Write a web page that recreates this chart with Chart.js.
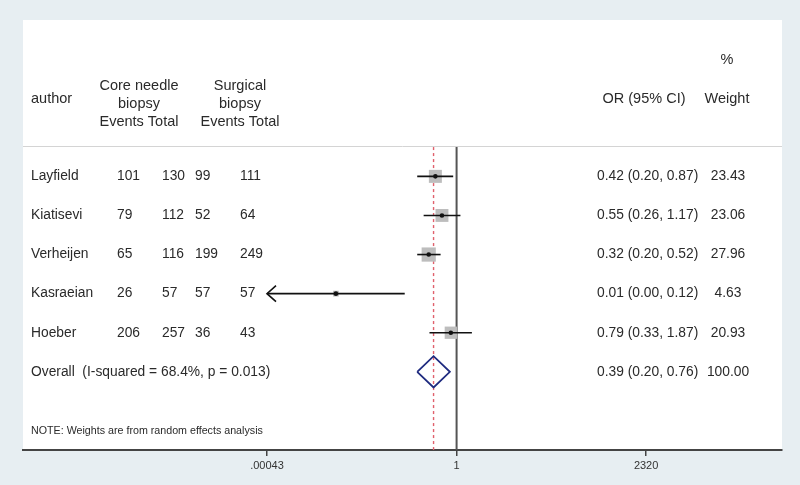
<!DOCTYPE html>
<html>
<head>
<meta charset="utf-8">
<script src="https://cdn.jsdelivr.net/npm/chart.js@4/dist/chart.umd.min.js"></script>
<style>
  html, body { margin: 0; padding: 0; background: #e7eef2; }
  canvas { display: block; }
</style>
</head>
<body>
<canvas id="forest" width="800" height="485"></canvas>
<script>
// study rows
const authors = ['Layfield', 'Kiatisevi', 'Verheijen', 'Kasraeian', 'Hoeber'];
const cnbEvents = [101, 79, 65, 26, 206];
const cnbTotal = [130, 112, 116, 57, 257];
const surgEvents = [99, 52, 199, 57, 36];
const surgTotal = [111, 64, 249, 57, 43];
const oddsRatio = [0.42, 0.55, 0.32, 0.0072, 0.79];
const ciLow = [0.20, 0.26, 0.20, 0.0003, 0.33];
const ciHigh = [0.87, 1.17, 0.52, 0.12, 1.87];
const weights = [23.43, 23.06, 27.96, 4.63, 20.93];

// pooled estimate
const overallOR = 0.39;
const overallLow = 0.20;
const overallHigh = 0.76;
const overallWeight = 100.00;
const iSquared = 68.4;
const pValue = 0.013;

// axis
const xTicks = [0.00043, 1, 2320];
const xTickLabels = ['.00043', '1', '2320'];

const FONT = '"Liberation Sans", Arial, sans-serif';
const TEXT = '#2a2a2a';
const overallRow = authors.length;
const clipLow = xTicks[0];
const fmt = v => v.toFixed(2);

const ciSets = authors.map((a, i) => ({
  label: 'ci-' + a,
  data: [{x: Math.max(ciLow[i], clipLow), y: i}, {x: ciHigh[i], y: i}],
  showLine: true,
  borderColor: '#111',
  borderWidth: 1.6,
  pointRadius: 0,
  order: 2
}));

const chart = new Chart(document.getElementById('forest'), {
  type: 'scatter',
  data: {
    datasets: [
      {
        label: 'estimate',
        data: oddsRatio.map((v, i) => ({x: v, y: i})),
        pointStyle: 'circle',
        pointRadius: 2.3,
        backgroundColor: '#111',
        borderWidth: 0,
        order: 1
      },
      ...ciSets,
      {
        label: 'weight boxes',
        data: oddsRatio.map((v, i) => ({x: v, y: i})),
        pointStyle: 'rect',
        pointRadius: weights.map(w => 1.9 * Math.sqrt(w)),
        backgroundColor: '#bdbdbd',
        borderWidth: 0,
        order: 3
      },
      {
        label: 'overall',
        data: [
          {x: overallLow, y: overallRow},
          {x: overallOR, y: overallRow - 0.4},
          {x: overallHigh, y: overallRow},
          {x: overallOR, y: overallRow + 0.4},
          {x: overallLow, y: overallRow}
        ],
        showLine: true,
        borderColor: '#1f2b80',
        borderWidth: 1.8,
        pointRadius: 0,
        order: 4
      },
      {
        label: 'no effect',
        data: [{x: 1, y: -0.75}, {x: 1, y: 7}],
        showLine: true,
        borderColor: '#555',
        borderWidth: 2,
        pointRadius: 0,
        order: 5
      },
      {
        label: 'pooled line',
        data: [{x: overallOR, y: -0.75}, {x: overallOR, y: 7}],
        showLine: true,
        borderColor: '#e0606c',
        borderWidth: 1.4,
        borderDash: [3, 3],
        pointRadius: 0,
        order: 6
      }
    ]
  },
  options: {
    responsive: false,
    animation: false,
    devicePixelRatio: 1,
    layout: {padding: {left: 23, right: 18, top: 20, bottom: 0}},
    plugins: {
      legend: {display: false},
      tooltip: {enabled: false}
    },
    scales: {
      x: {
        type: 'logarithmic',
        min: 2e-8,
        max: 6e5,
        afterBuildTicks: s => { s.ticks = xTicks.map(v => ({value: v})); },
        afterFit: s => { s.height = 35; },
        ticks: {
          autoSkip: false,
          maxRotation: 0,
          padding: 3,
          color: '#333',
          font: {family: FONT, size: 11},
          callback: (v, i) => xTickLabels[i]
        },
        grid: {
          drawOnChartArea: false,
          drawTicks: true,
          tickLength: 6,
          color: '#444',
          lineWidth: 1.5
        },
        border: {display: true, color: '#444', width: 2}
      },
      y: {
        display: false,
        reverse: true,
        min: -4,
        max: 7
      }
    }
  },
  plugins: [{
    id: 'forestText',
    beforeDraw(c) {
      const {ctx, chartArea: a} = c;
      ctx.save();
      ctx.fillStyle = '#e7eef2';
      ctx.fillRect(0, 0, c.width, c.height);
      ctx.fillStyle = '#fff';
      ctx.fillRect(a.left, a.top, a.right - a.left, a.bottom - a.top);
      ctx.strokeStyle = '#d4d4d4';
      ctx.lineWidth = 1;
      ctx.beginPath();
      ctx.moveTo(a.left, 146.5);
      ctx.lineTo(a.right, 146.5);
      ctx.stroke();
      ctx.restore();
    },
    afterDatasetsDraw(c) {
      const {ctx} = c;
      const x = c.scales.x, y = c.scales.y;
      ctx.save();
      ctx.fillStyle = TEXT;
      ctx.textBaseline = 'middle';

      // header
      ctx.font = '14.5px ' + FONT;
      ctx.textAlign = 'left';
      ctx.fillText('author', 31, 99);
      ctx.textAlign = 'center';
      ctx.fillText('Core needle', 139, 86);
      ctx.fillText('biopsy', 139, 104);
      ctx.fillText('Events Total', 139, 122);
      ctx.fillText('Surgical', 240, 86);
      ctx.fillText('biopsy', 240, 104);
      ctx.fillText('Events Total', 240, 122);
      ctx.fillText('OR (95% CI)', 644, 99);
      ctx.fillText('%', 727, 60);
      ctx.fillText('Weight', 727, 99);

      // study rows
      ctx.font = '13.8px ' + FONT;
      authors.forEach((a, i) => {
        const py = y.getPixelForValue(i);
        ctx.textAlign = 'left';
        ctx.fillText(a, 31, py);
        ctx.fillText(String(cnbEvents[i]), 117, py);
        ctx.fillText(String(cnbTotal[i]), 162, py);
        ctx.fillText(String(surgEvents[i]), 195, py);
        ctx.fillText(String(surgTotal[i]), 240, py);
        ctx.fillText(fmt(oddsRatio[i]) + ' (' + fmt(ciLow[i]) + ', ' + fmt(ciHigh[i]) + ')', 597, py);
        ctx.textAlign = 'center';
        ctx.fillText(fmt(weights[i]), 728, py);

        // arrow where the interval runs past the axis
        if (ciLow[i] < clipLow) {
          const px = x.getPixelForValue(clipLow);
          ctx.strokeStyle = '#111';
          ctx.lineWidth = 1.6;
          ctx.beginPath();
          ctx.moveTo(px + 9, py - 8);
          ctx.lineTo(px, py);
          ctx.lineTo(px + 9, py + 8);
          ctx.stroke();
        }
      });

      const oy = y.getPixelForValue(overallRow);
      ctx.textAlign = 'left';
      ctx.fillText('Overall  (I-squared = ' + iSquared.toFixed(1) + '%, p = ' + pValue.toFixed(3) + ')', 31, oy);
      ctx.fillText(fmt(overallOR) + ' (' + fmt(overallLow) + ', ' + fmt(overallHigh) + ')', 597, oy);
      ctx.textAlign = 'center';
      ctx.fillText(overallWeight.toFixed(2), 728, oy);

      ctx.textAlign = 'left';
      ctx.font = '10.7px ' + FONT;
      ctx.fillText('NOTE: Weights are from random effects analysis', 31, 431);
      ctx.restore();
    }
  }]
});
</script>
</body>
</html>
